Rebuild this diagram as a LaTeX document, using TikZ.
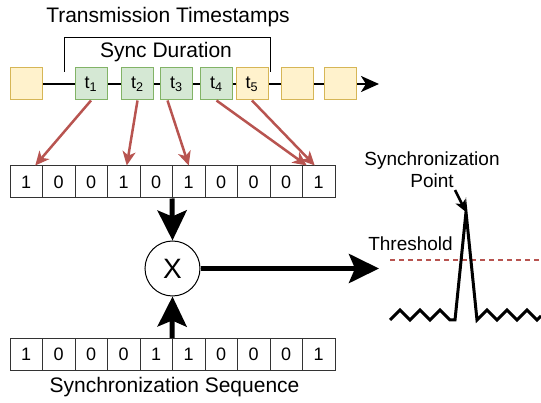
\documentclass[tikz,border=0pt]{standalone}
\usepackage{fontspec}
\setmainfont{Liberation Sans}
\usetikzlibrary{arrows.meta}

\definecolor{yelFill}{HTML}{FFF2CC}
\definecolor{yelLine}{HTML}{D6B656}
\definecolor{grnFill}{HTML}{D5E8D4}
\definecolor{grnLine}{HTML}{82B366}
\definecolor{redLine}{HTML}{B85450}

\begin{document}
\begin{tikzpicture}[x=1pt,y=-1pt,
  slot/.style={minimum width=32pt, minimum height=32pt, inner sep=0pt, line width=1pt,
    font=\fontsize{18}{18}\selectfont},
  idle/.style={slot, draw=yelLine, fill=yelFill},
  sent/.style={slot, draw=grnLine, fill=grnFill},
  late/.style={slot, draw=yelLine, fill=yelFill},
  cell/.style={draw=black!80, line width=1pt, minimum width=32.5pt, minimum height=32pt,
    inner sep=0pt, font=\fontsize{18}{18}\selectfont},
  label/.style={inner sep=0pt, font=\fontsize{21}{21}\selectfont},
  smalllabel/.style={inner sep=0pt, font=\fontsize{19}{22}\selectfont, align=center},
  timeline/.style={line width=2.5pt, -{Stealth[length=18pt, width=16pt, inset=5pt]}},
  maparrow/.style={draw=redLine, line width=2.5pt,
    -{Stealth[length=14pt, width=13pt, inset=4pt]}},
  bigarrow/.style={line width=5pt, -{Stealth[length=30pt, width=29pt, inset=6pt]}},
  pointer/.style={line width=2.5pt, -{Stealth[length=12pt, width=11pt, inset=3pt]}},
]
\useasboundingbox (0,0) rectangle (541,403);

% titles
\node[label] (title) at (168,17) {Transmission Timestamps};
\node[label] (sync) at (166,52) {Sync Duration};
\coordinate (brL) at (64,72);
\coordinate (brR) at (270,72);
\draw[line width=1pt] (brL) -- (64,38) -- (270,38) -- (brR);

% time axis with slots
\coordinate (tlstart) at (42,84);
\coordinate (tlend) at (379,84);
\draw[timeline] (tlstart) -- (tlend);
\node[idle] (s0) at (26,84) {};
\node[sent] (t1) at (91,84) {t\textsubscript{1}};
\node[sent] (t2) at (137.5,84) {t\textsubscript{2}};
\node[sent] (t3) at (176.5,84) {t\textsubscript{3}};
\node[sent] (t4) at (216.5,84) {t\textsubscript{4}};
\node[late] (t5) at (252,84) {t\textsubscript{5}};
\node[idle] (s6) at (297,84) {};
\node[idle] (s7) at (340.5,84) {};

% received bits
\foreach \b [count=\i from 0] in {1,0,0,1,0,1,0,0,0,1}
  \node[cell] (a\i) at (26.25+32.5*\i,182) {\b};

% reference sequence
\foreach \b [count=\i from 0] in {1,0,0,0,1,1,0,0,0,1}
  \node[cell] (b\i) at (26.25+32.5*\i,354.5) {\b};
\node[label] (seqlabel) at (174.5,387) {Synchronization Sequence};

% timestamp to bit mapping
\draw[maparrow] (t1.south) -- ([xshift=9pt]a0.north);
\draw[maparrow] (t2.south) -- ([xshift=3pt]a3.north);
\draw[maparrow] ([xshift=-9pt]t3.south) -- ([xshift=0pt]a5.north);
\draw[maparrow] (t4.south) -- ([xshift=-12pt]a9.north);
\draw[maparrow] (t5.south) -- ([xshift=-4pt]a9.north);

% correlator
\node[draw, circle, line width=1pt, minimum size=55pt, inner sep=0pt,
  font=\fontsize{28}{28}\selectfont] (mul) at (172.5,268.5) {X};
\draw[bigarrow] (a5.south west) -- (mul.north);
\draw[bigarrow] (b5.north west) -- (mul.south);
\coordinate (out) at (379,268.5);
\draw[bigarrow] (mul.east) -- (out);

% correlation output
\coordinate (thL) at (390,260);
\coordinate (thR) at (541,260);
\draw[redLine, line width=1.5pt, dash pattern=on 5pt off 4pt] (thL) -- (thR);
\node[smalllabel] (thresh) at (410.5,244) {Threshold};
\coordinate (peak) at (466,212);
\draw[line width=3pt, line join=miter, line cap=butt]
  (390,320) -- (400,310) -- (410,320) -- (420,310) -- (430,320) -- (440,310)
  -- (450,320) -- (455,320) -- (peak) -- (477,320) -- (487,310) -- (497,320)
  -- (507,310) -- (517,320) -- (527,310) -- (537,320) -- (541,316);
\node[smalllabel] (ptlabel) at (432,170) {Synchronization\\Point};
\coordinate (ptfrom) at (455,190);
\draw[pointer] (ptfrom) -- (peak);
\end{tikzpicture}
\end{document}
